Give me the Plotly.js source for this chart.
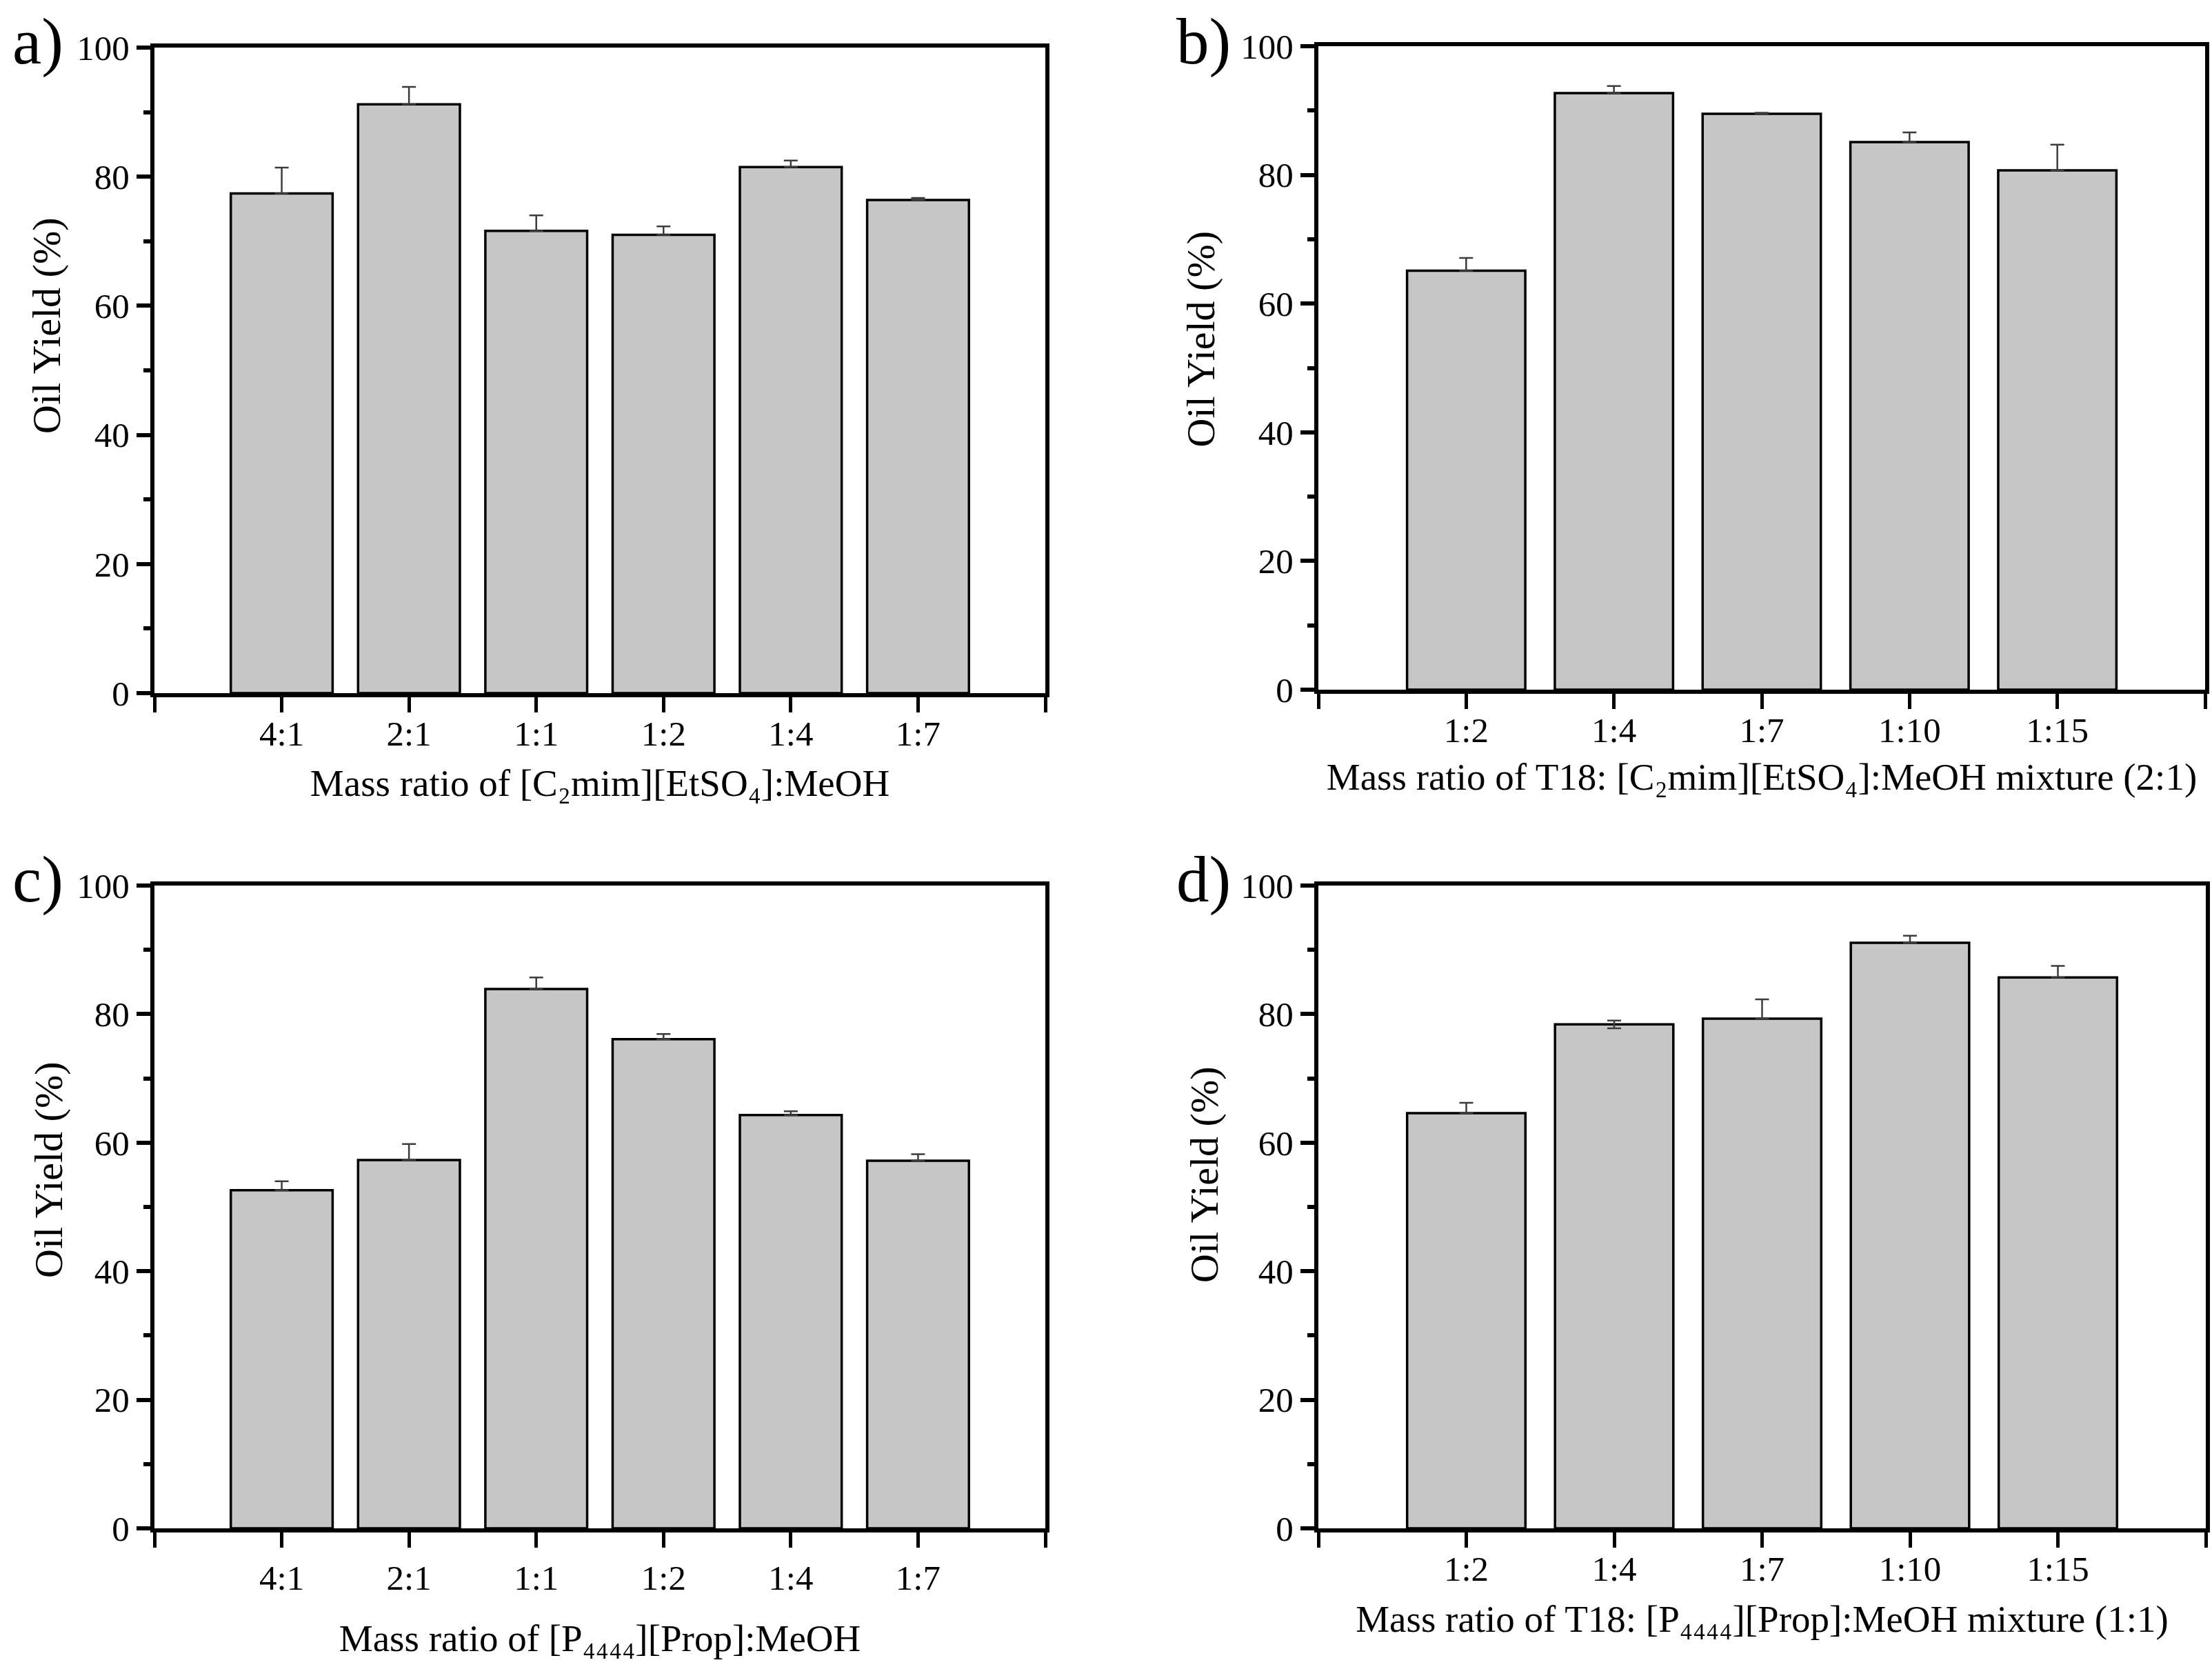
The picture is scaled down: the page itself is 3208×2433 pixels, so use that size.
<!DOCTYPE html>
<html>
<head>
<meta charset="utf-8">
<script src="https://cdn.plot.ly/plotly-3.0.1.min.js"></script>
<style>
  html, body { margin: 0; padding: 0; background: #ffffff; }
  #chart { width: 3208px; height: 2433px; }
</style>
</head>
<body>
<div id="chart"></div>
<script>
// ---- data ----
const catA = ['4:1', '2:1', '1:1', '1:2', '1:4', '1:7'];
const yieldA = [77.4, 91.2, 71.6, 71.0, 81.5, 76.4];
const errA = [4.0, 2.7, 2.4, 1.3, 1.0, 0.3];

const catB = ['1:2', '1:4', '1:7', '1:10', '1:15'];
const yieldB = [65.1, 92.7, 89.5, 85.1, 80.7];
const errB = [2.0, 1.1, 0.15, 1.5, 4.0];

const catC = ['4:1', '2:1', '1:1', '1:2', '1:4', '1:7'];
const yieldC = [52.6, 57.3, 83.9, 76.1, 64.3, 57.2];
const errC = [1.4, 2.5, 1.8, 0.8, 0.6, 1.0];

const catD = ['1:2', '1:4', '1:7', '1:10', '1:15'];
const yieldD = [64.6, 78.4, 79.3, 91.1, 85.7];
const errD = [1.6, 0.6, 3.0, 1.1, 1.8];
const errDminus = [0, 0.6, 0, 0, 0];

const yTickVals = [0, 20, 40, 60, 80, 100];

const panelLabels = ['a)', 'b)', 'c)', 'd)'];
const yTitle = 'Oil Yield (%)';
const xTitles = [
  'Mass ratio of [C\u2082mim][EtSO\u2084]:MeOH',
  'Mass ratio of T18: [C\u2082mim][EtSO\u2084]:MeOH mixture (2:1)',
  'Mass ratio of [P\u2084\u2084\u2084\u2084][Prop]:MeOH',
  'Mass ratio of T18: [P\u2084\u2084\u2084\u2084][Prop]:MeOH mixture (1:1)'
];

// ---- layout helpers ----
const W = 3208, H = 2433;
const px = v => v / W;
const py = v => 1 - v / H;
const FONT = 'Liberation Serif, Times New Roman, DejaVu Serif, serif';

// plot-area boxes in pixels: [left, right, top(y=100), bottom(y=0)]
const boxes = [
  [224, 1516, 69, 1005],
  [1912, 3198, 67, 1000],
  [224, 1516, 1284, 2216],
  [1912, 3199, 1284, 2216]
];

const panels = [
  {cats: catA, vals: yieldA, err: errA, errm: catA.map(() => 0)},
  {cats: catB, vals: yieldB, err: errB, errm: catB.map(() => 0)},
  {cats: catC, vals: yieldC, err: errC, errm: catC.map(() => 0)},
  {cats: catD, vals: yieldD, err: errD, errm: errDminus}
];

const data = [];
const layout = {
  width: W, height: H,
  margin: {l: 0, r: 0, t: 0, b: 0},
  paper_bgcolor: '#ffffff',
  plot_bgcolor: '#ffffff',
  showlegend: false,
  bargap: 0.2,
  font: {family: FONT, color: '#000000'},
  annotations: []
};

const yTitleShift = [-65, -42, -54, -47];
const yTitleX = [67, 1741, 70, 1746];
const xTitleStandoff = [26, 22, 42, 27];
const labelPos = [[16, 60], [1704, 60], [16, 1275], [1704, 1275]];
const xLabelStandoff = [-13, -13, 0, -13];

panels.forEach((p, i) => {
  const n = p.cats.length;
  const xs = p.cats.map((_, k) => k + 1);
  const xa = i === 0 ? 'x' : 'x' + (i + 1);
  const ya = i === 0 ? 'y' : 'y' + (i + 1);
  const xKey = i === 0 ? 'xaxis' : 'xaxis' + (i + 1);
  const yKey = i === 0 ? 'yaxis' : 'yaxis' + (i + 1);
  const b = boxes[i];

  data.push({
    type: 'bar',
    x: xs,
    y: p.vals,
    width: 0.8,
    xaxis: xa, yaxis: ya,
    marker: {color: '#c6c6c6', line: {color: '#000000', width: 3.5}},
    error_y: {
      type: 'data', array: p.err, arrayminus: p.errm, symmetric: false,
      color: '#3c3c3c', thickness: 2.5, width: 10
    },
    hoverinfo: 'x+y'
  });

  layout[xKey] = {
    domain: [px(b[0]), px(b[1])],
    anchor: ya,
    range: [0, n + 1],
    tickmode: 'array', tickvals: xs, ticktext: p.cats,
    ticks: 'outside', ticklen: 22, tickwidth: 5, tickcolor: '#000000',
    minor: {tickmode: 'linear', tick0: 0, dtick: 1, ticks: 'outside', ticklen: 22, tickwidth: 5, tickcolor: '#000000', showgrid: false},
    ticklabelstandoff: xLabelStandoff[i],
    showline: true, linewidth: 6, linecolor: '#000000', mirror: true,
    showgrid: false, zeroline: false,
    tickfont: {family: FONT, size: 51, color: '#000000'},
    title: {text: xTitles[i], standoff: xTitleStandoff[i], font: {family: FONT, size: 55, color: '#000000'}},
    automargin: false,
    fixedrange: true
  };
  layout[yKey] = {
    domain: [py(b[3]), py(b[2])],
    anchor: xa,
    range: [0, 100],
    tickmode: 'array', tickvals: yTickVals,
    ticks: 'outside', ticklen: 20, tickwidth: 6, tickcolor: '#000000',
    minor: {tickmode: 'linear', tick0: 0, dtick: 10, ticks: 'outside', ticklen: 10, tickwidth: 6, tickcolor: '#000000', showgrid: false},
    showline: true, linewidth: 6, linecolor: '#000000', mirror: true,
    showgrid: false, zeroline: false,
    tickfont: {family: FONT, size: 51, color: '#000000'},
    automargin: false,
    fixedrange: true
  };

  // panel label
  layout.annotations.push({
    xref: 'paper', yref: 'paper',
    x: px(labelPos[i][0]), y: py(labelPos[i][1]),
    xanchor: 'left', yanchor: 'middle',
    text: panelLabels[i], showarrow: false,
    font: {family: FONT, size: 95, color: '#000000'}
  });
  // y title (rotated; sits above the axis centre as in the reference)
  layout.annotations.push({
    xref: 'paper', yref: 'paper',
    x: px(yTitleX[i]), y: py((b[2] + b[3]) / 2 + yTitleShift[i]),
    xanchor: 'center', yanchor: 'middle',
    text: yTitle, textangle: -90, showarrow: false,
    font: {family: FONT, size: 58, color: '#000000'}
  });
});

Plotly.newPlot('chart', data, layout, {displayModeBar: false, staticPlot: true});
</script>
</body>
</html>
